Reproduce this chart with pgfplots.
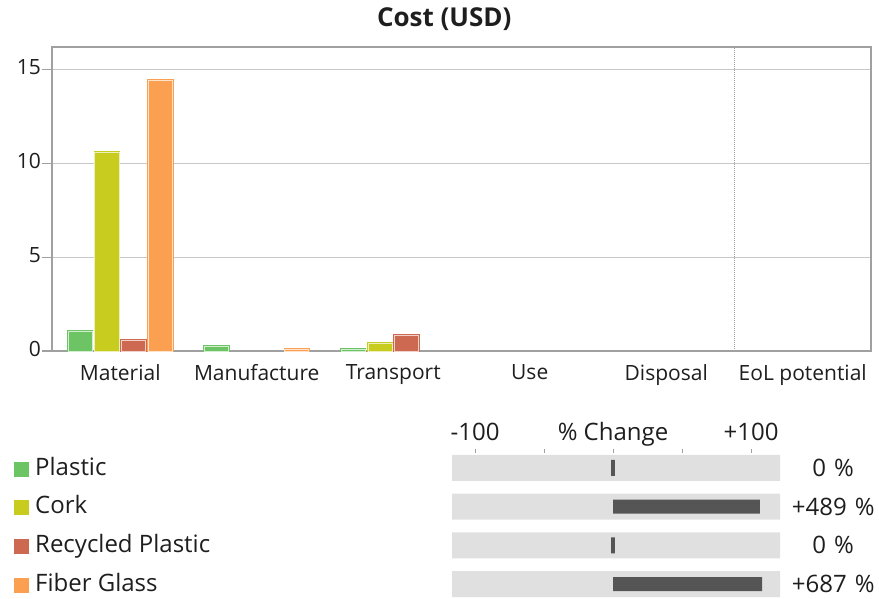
\documentclass[border=0pt]{standalone}
\usepackage{pgfplots}
\pgfplotsset{compat=1.18}
\usepackage{fontspec}
\setmainfont{Open Sans}
\definecolor{cPlastic}{RGB}{108,196,100}
\definecolor{cCork}{RGB}{200,204,30}
\definecolor{cRecycled}{RGB}{205,105,80}
\definecolor{cFiber}{RGB}{250,160,80}
\definecolor{bggray}{RGB}{224,224,224}
\definecolor{darkbar}{RGB}{85,85,85}
\definecolor{axgray}{RGB}{160,160,160}
\definecolor{gridgray}{RGB}{200,200,200}
\definecolor{txt}{RGB}{30,30,30}
\begin{document}
\fontsize{21}{25}\selectfont
\begin{tikzpicture}
\path[use as bounding box] (0pt,0pt) rectangle (879pt,-598pt);
\begin{axis}[
  at={(52pt,-351pt)}, anchor=south west,
  scale only axis, width=819pt, height=304pt,
  xmin=-0.5, xmax=5.5, ymin=0, ymax=16.2,
  ybar=2.7pt, bar width=24pt,
  every axis plot post/.append style={legend image code/.code={\fill[##1, draw=none] (0pt,-7.5pt) rectangle (15pt,7.5pt);}},
  axis line style={axgray, line width=1.5pt},
  xtick={0,1,2,3,4,5},
  xticklabels={Material,Manufacture,Transport,Use,Disposal,EoL potential},
  x tick style={draw=none},
  xticklabel style={yshift=4pt},
  extra x ticks={4.5}, extra x tick labels={},
  extra x tick style={grid=major, major grid style={axgray, densely dotted, line width=1.3pt}, tick style={draw=none}},
  ytick={0,5,10,15},
  ymajorgrids, major grid style={gridgray, line width=1pt},
  y tick style={axgray, line width=1.2pt}, tick align=outside, major tick length=10pt,
  ytick pos=left,
  yticklabel style={inner xsep=1pt, yshift=2pt},
  /pgf/number format/assume math mode=true,
  tick label style={text=txt},
  title={\fontsize{26}{30}\selectfont\textbf{Cost (USD)}}, title style={at={(0.479,1)}, anchor=base, yshift=15pt, text=txt},
  legend cell align=left,
  legend style={at={(-0.0464,-0.3487)}, anchor=north west, draw=none, fill=none, inner sep=0pt,
    row sep=14.7pt, column sep=6pt, text=txt, font=\fontsize{24}{28}\selectfont,
    nodes={inner sep=0pt, text height=18pt, text depth=6pt, anchor=west}},
]
\addplot[fill=cPlastic, draw=cPlastic, double=cPlastic!30!white, double distance=0.8pt, line width=0.8pt]
  coordinates {(0,1.06) (1,0.27) (2,0.10)};
\addplot[fill=cCork, draw=cCork, double=cCork!30!white, double distance=0.8pt, line width=0.8pt]
  coordinates {(0,10.58) (2,0.40)};
\addplot[fill=cRecycled, draw=cRecycled, double=cRecycled!30!white, double distance=0.8pt, line width=0.8pt]
  coordinates {(0,0.58) (2,0.85)};
\addplot[fill=cFiber, draw=cFiber, double=cFiber!30!white, double distance=0.8pt, line width=0.8pt]
  coordinates {(0,14.41) (1,0.10)};
\legend{Plastic,Cork,Recycled Plastic,Fiber Glass}
\end{axis}
\begin{axis}[
  at={(452pt,-448.6pt)}, anchor=north west,
  scale only axis, width=328pt, height=154.8pt,
  xmin=-116.7, xmax=121, ymin=0.5, ymax=4.5, y dir=reverse,
  xbar, bar shift=0pt,
  axis line style={draw=none},
  xtick={-100,-50,0,50,100}, xticklabels={-100,,\% Change,,+100},
  xtick pos=upper, xticklabel pos=upper,
  xticklabel style={anchor=base, yshift=8pt},
  tick align=inside, major tick length=4pt,
  x tick style={axgray, line width=0.8pt},
  ytick={1,2,3,4}, yticklabels={0 \%,+489 \%,0 \%,+687 \%},
  ytick pos=right, yticklabel pos=right, y tick style={draw=none},
  yticklabel style={text width=106pt, align=center, inner sep=0pt},
  tick label style={text=txt, font=\fontsize{24}{28}\selectfont},
  clip=false,
]
\addplot[fill=bggray, draw=none, bar width=26pt] coordinates {(-116.7,1) (-116.7,2) (-116.7,3) (-116.7,4)};
\addplot[fill=bggray, draw=none, bar width=26pt] coordinates {(121,1) (121,2) (121,3) (121,4)};
\addplot[fill=darkbar, draw=none, bar width=14pt] coordinates {(106.5,2) (108,4)};
\addplot[fill=darkbar, draw=none, bar width=16pt] coordinates {(-1.4,1) (1.4,1) (-1.4,3) (1.4,3)};
\end{axis}
\end{tikzpicture}
\end{document}
